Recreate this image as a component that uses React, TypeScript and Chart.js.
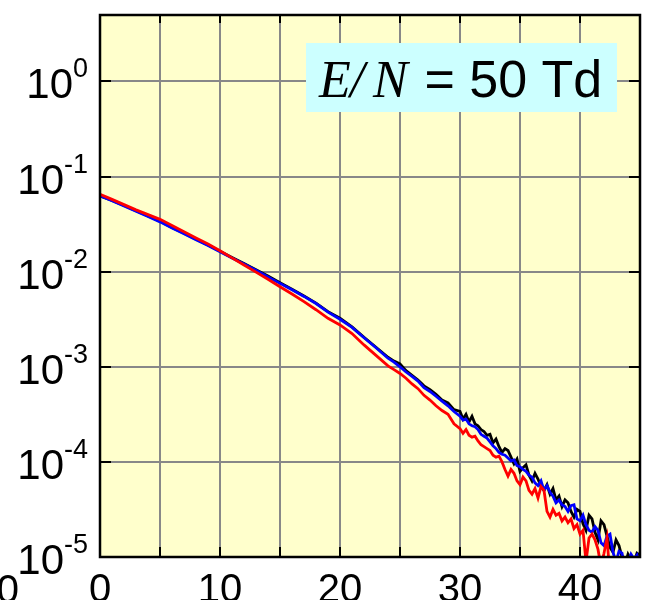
import { useEffect, useRef } from 'react';
import { Chart, registerables } from 'chart.js';

Chart.register(...registerables);

// Electron energy (eV) sample positions
const X_VALUES = [
  0, 1, 2, 3, 4, 5, 6, 7, 8, 9, 10, 11, 12, 13, 14, 15, 16, 17, 18, 19, 20, 21, 22, 23, 24,
  24.5, 25, 25.5, 26, 26.5, 27, 27.5, 28, 28.5, 29, 29.5, 30,
  30.25, 30.5, 30.75, 31, 31.25, 31.5, 31.75, 32, 32.25, 32.5, 32.75, 33,
  33.25, 33.5, 33.75, 34, 34.25, 34.5, 34.75, 35, 35.25, 35.5, 35.75, 36,
  36.25, 36.5, 36.75, 37, 37.25, 37.5, 37.75, 38, 38.25, 38.5, 38.75, 39,
  39.25, 39.5, 39.75, 40, 40.25, 40.5, 40.75, 41, 41.25, 41.5, 41.75, 42,
  42.25, 42.5, 42.75, 43, 43.25, 43.5, 43.75, 44, 44.25, 44.5, 44.75, 45,
];

// log10 of the distribution (decades)
const BLACK_LOG10 = [
  -1.205, -1.25, -1.305, -1.36, -1.415, -1.47, -1.535, -1.595, -1.66, -1.72, -1.785, -1.85, -1.915,
  -1.98, -2.045, -2.115, -2.185, -2.255, -2.33, -2.42, -2.49, -2.58, -2.69, -2.795, -2.9,
  -2.94, -2.97, -3.04, -3.09, -3.14, -3.2, -3.24, -3.29, -3.35, -3.38, -3.45, -3.47,
  -3.55, -3.5, -3.58, -3.52, -3.6, -3.62, -3.66, -3.68, -3.72, -3.71, -3.8, -3.76,
  -3.84, -3.9, -3.86, -3.88, -3.95, -4.02, -3.97, -4.1, -4.06, -4.03, -4.14, -4.2,
  -4.12, -4.18, -4.26, -4.3, -4.24, -4.34, -4.28, -4.4, -4.36, -4.47, -4.4, -4.43,
  -4.52, -4.58, -4.5, -4.52, -4.65, -4.72, -4.56, -4.6, -4.74, -4.82, -4.62, -4.66,
  -4.78, -4.9, -4.95, -4.82, -4.88, -5.0, -5.08, -4.97, -5.03, -5.05, -4.96, -4.98,
];

const BLUE_LOG10 = [
  -1.2, -1.255, -1.31, -1.365, -1.42, -1.476, -1.54, -1.6, -1.665, -1.725, -1.79, -1.855, -1.92,
  -1.985, -2.055, -2.123, -2.19, -2.26, -2.335, -2.425, -2.5, -2.585, -2.695, -2.8, -2.91,
  -2.95, -3.0, -3.055, -3.1, -3.15, -3.22, -3.26, -3.31, -3.36, -3.41, -3.47, -3.52,
  -3.56, -3.55, -3.6, -3.62, -3.63, -3.66, -3.71, -3.73, -3.75, -3.79, -3.83, -3.86,
  -3.9, -3.92, -3.93, -3.96, -3.99, -3.98, -4.04, -4.05, -4.08, -4.1, -4.14, -4.16,
  -4.22, -4.25, -4.2, -4.3, -4.25, -4.32, -4.36, -4.43, -4.4, -4.45, -4.47, -4.52,
  -4.46, -4.45, -4.6, -4.62, -4.56, -4.66, -4.72, -4.74, -4.68, -4.72, -4.85, -4.88,
  -4.78, -4.76, -4.95, -5.05, -4.94, -4.96, -5.1, -5.06, -4.97, -5.02, -4.98, -5.1,
];

const RED_LOG10 = [
  -1.186, -1.24, -1.295, -1.35, -1.4, -1.45, -1.515, -1.58, -1.645, -1.71, -1.78, -1.855, -1.93,
  -2.005, -2.08, -2.158, -2.235, -2.315, -2.4, -2.49, -2.56, -2.65, -2.77, -2.88, -2.99,
  -3.03, -3.07, -3.12, -3.18, -3.23, -3.3, -3.35, -3.41, -3.46, -3.5, -3.6, -3.65,
  -3.7, -3.66, -3.72, -3.74, -3.73, -3.78, -3.82, -3.84, -3.86, -3.88, -3.93, -3.95,
  -3.94, -4.0, -4.08, -4.15, -4.08, -4.12, -4.2, -4.24, -4.16, -4.2, -4.3, -4.34,
  -4.28, -4.38, -4.26, -4.3, -4.52, -4.58, -4.5, -4.56, -4.54, -4.62, -4.58, -4.64,
  -4.6, -4.7, -4.66, -4.76, -4.72, -5.05, -4.8, -4.76, -4.82, -4.92, -5.1, -4.96,
  -4.8, -5.2, null, null, null, null, null, null, null, null, null, null,
];

const Y_TICK_VALUES = [1e-5, 1e-4, 1e-3, 1e-2, 1e-1, 1];
const Y_TICK_EXPONENTS = ['-5', '-4', '-3', '-2', '-1', '0'];
const X_LABELED_TICKS = [0, 10, 20, 30, 40];
const ANNOTATION_E = 'E';
const ANNOTATION_SLASH = '/';
const ANNOTATION_N = 'N';
const ANNOTATION_REST = ' = 50 Td';
const STRAY_LABEL = '50';

const W = 658;
const H = 640;
const SANS = '"Liberation Sans", Arial, sans-serif';
const SERIF = '"Liberation Serif", "Times New Roman", serif';

function toPoints(logs: (number | null)[]) {
  return X_VALUES.map((x, i) => ({ x, y: logs[i] === null ? null : Math.pow(10, logs[i] as number) }));
}

const decorPlugin = {
  id: 'decor',
  beforeDraw(chart: any) {
    const { ctx, chartArea: a } = chart;
    ctx.save();
    ctx.fillStyle = '#FFFFCC';
    ctx.fillRect(a.left, a.top, a.right - a.left, a.bottom - a.top);
    ctx.restore();
  },
  afterDraw(chart: any) {
    const { ctx, chartArea: a } = chart;
    const xs = chart.scales.x;
    const ys = chart.scales.y;
    ctx.save();
    // inner tick marks
    ctx.strokeStyle = '#000';
    ctx.lineWidth = 2;
    ctx.beginPath();
    xs.ticks.forEach((t: any) => {
      const px = Math.round(xs.getPixelForValue(t.value));
      ctx.moveTo(px, a.bottom);
      ctx.lineTo(px, a.bottom - 10);
      ctx.moveTo(px, a.top);
      ctx.lineTo(px, a.top + 8);
    });
    ys.ticks.forEach((t: any) => {
      const py = Math.round(ys.getPixelForValue(t.value));
      ctx.moveTo(a.left, py);
      ctx.lineTo(a.left + 11, py);
      ctx.moveTo(a.right, py);
      ctx.lineTo(a.right - 11, py);
    });
    ctx.stroke();
    // frame
    ctx.lineWidth = 2.5;
    ctx.strokeRect(a.left, a.top, a.right - a.left, a.bottom - a.top);

    // y tick labels with superscript exponents
    ctx.fillStyle = '#000';
    ctx.textBaseline = 'alphabetic';
    ctx.textAlign = 'right';
    const labelRight = a.left - 12;
    ys.ticks.forEach((t: any, i: number) => {
      const py = ys.getPixelForValue(t.value);
      const exp = Y_TICK_EXPONENTS[Y_TICK_VALUES.indexOf(t.value)] ?? String(i);
      ctx.font = `27px ${SANS}`;
      const ew = ctx.measureText(exp).width;
      ctx.fillText(exp, labelRight, py - 4);
      ctx.font = `42px ${SANS}`;
      ctx.fillText('10', labelRight - ew, py + 17);
    });

    // label of the neighbouring panel, cut by the left edge
    ctx.font = `40px ${SANS}`;
    ctx.textAlign = 'right';
    ctx.fillText(STRAY_LABEL, 19, a.bottom + 46);

    // annotation box
    ctx.fillStyle = '#CCFFFF';
    ctx.fillRect(306, 43, 311, 69);
    ctx.fillStyle = '#000';
    ctx.textAlign = 'left';
    const ty = 97;
    ctx.font = `italic 52px ${SERIF}`;
    ctx.fillText(ANNOTATION_E, 319, ty);
    ctx.fillText(ANNOTATION_SLASH, 350, ty);
    ctx.fillText(ANNOTATION_N, 373, ty);
    ctx.font = `52px ${SANS}`;
    ctx.fillText(ANNOTATION_REST, 410, ty);
    ctx.restore();
  },
};

export default function App() {
  const ref = useRef<HTMLCanvasElement | null>(null);
  useEffect(() => {
    if (!ref.current) return;
    const chart = new Chart(ref.current, {
      type: 'line',
      data: {
        datasets: [
          { label: 'black', data: toPoints(BLACK_LOG10), borderColor: '#000000', borderWidth: 2.8, pointRadius: 0, spanGaps: false, order: 3 },
          { label: 'blue', data: toPoints(BLUE_LOG10), borderColor: '#0000FF', borderWidth: 2.8, pointRadius: 0, spanGaps: false, order: 2 },
          { label: 'red', data: toPoints(RED_LOG10), borderColor: '#FF0000', borderWidth: 2.8, pointRadius: 0, spanGaps: false, order: 1 },
        ],
      },
      options: {
        animation: false,
        responsive: false,
        devicePixelRatio: 1,
        layout: { padding: { top: 15, right: 18, left: 0, bottom: 0 } },
        plugins: { legend: { display: false }, tooltip: { enabled: false } },
        elements: { line: { tension: 0 } },
        scales: {
          x: {
            type: 'linear',
            min: 0,
            max: 45,
            afterFit: (s: any) => { s.height = H - 557; },
            grid: { color: '#888888', lineWidth: 2, drawTicks: false },
            border: { display: false },
            ticks: {
              stepSize: 5,
              autoSkip: false,
              maxRotation: 0,
              padding: 10,
              color: '#000',
              font: { family: SANS, size: 40 },
              callback: (v: any) => (X_LABELED_TICKS.includes(Number(v)) ? String(v) : ''),
            },
          },
          y: {
            type: 'logarithmic',
            min: 1e-5,
            max: 5,
            afterBuildTicks: (s: any) => { s.ticks = Y_TICK_VALUES.map((value) => ({ value })); },
            afterFit: (s: any) => { s.width = 100; },
            grid: { color: '#888888', lineWidth: 2, drawTicks: false },
            border: { display: false },
            ticks: { display: false },
          },
        },
      },
      plugins: [decorPlugin],
    } as any);
    return () => chart.destroy();
  }, []);
  return (
    <div style={{ position: 'fixed', left: 0, top: 0, width: 658, height: 600, overflow: 'hidden', background: '#fff' }}>
      <canvas ref={ref} width={W} height={H} style={{ display: 'block', width: W, height: H }} />
    </div>
  );
}
